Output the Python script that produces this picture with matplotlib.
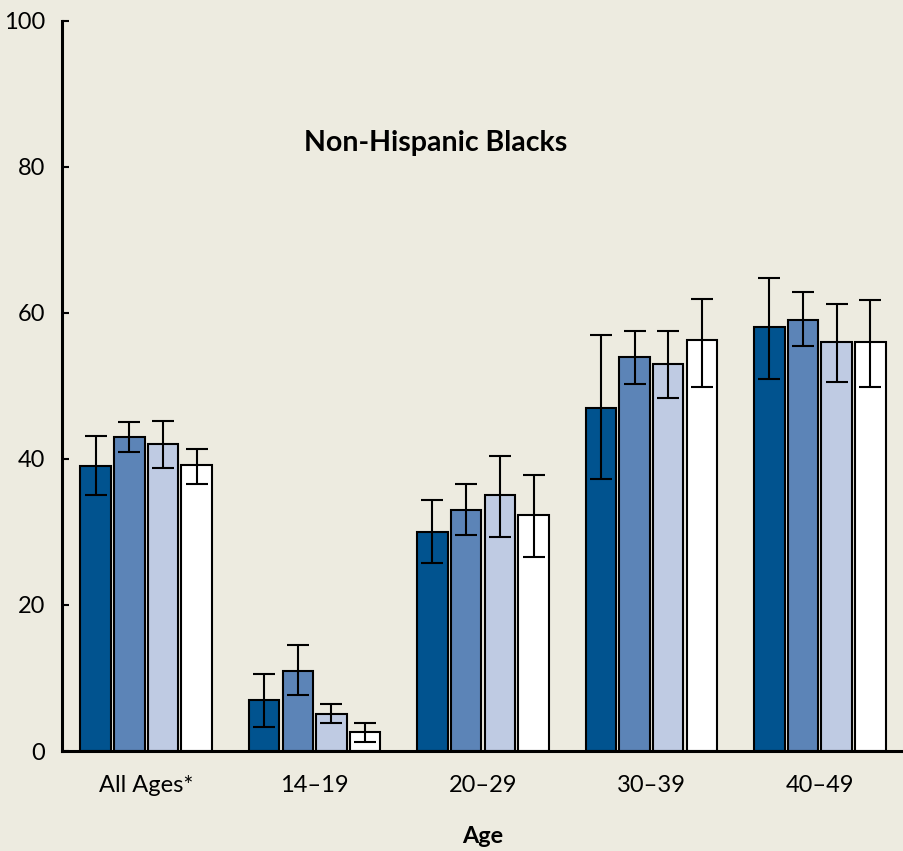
import matplotlib
matplotlib.use('Agg')
import matplotlib.pyplot as plt
import numpy as np

# percentages by age group, four survey periods per group
age_groups = ['All Ages*', '14\u201319', '20\u201329', '30\u201339', '40\u201349']
period_1 = [39.0, 7.0, 30.0, 47.0, 58.0]
period_2 = [43.0, 11.0, 33.0, 54.0, 59.0]
period_3 = [42.0, 5.1, 35.0, 53.0, 56.0]
period_4 = [39.2, 2.6, 32.3, 56.2, 56.0]

# 95% confidence limits
lower_1 = [35.0, 3.3, 25.8, 37.3, 50.9]
upper_1 = [43.1, 10.6, 34.4, 57.0, 64.7]
lower_2 = [40.9, 7.6, 29.6, 50.2, 55.4]
upper_2 = [45.0, 14.5, 36.5, 57.5, 62.9]
lower_3 = [38.8, 3.9, 29.3, 48.3, 50.5]
upper_3 = [45.2, 6.5, 40.4, 57.5, 61.2]
lower_4 = [36.6, 1.2, 26.6, 49.8, 49.8]
upper_4 = [41.4, 3.9, 37.8, 61.9, 61.7]

def main():
    plt.rcParams['font.family'] = ['Lato', 'DejaVu Sans']
    bg = '#edebe0'
    colors = ['#01538f', '#5c84b7', '#bfcbe3', '#ffffff']

    fig = plt.figure(figsize=(9.04, 8.51), dpi=100, facecolor=bg)
    ax = fig.add_axes([0.0686, 0.1175, 0.9314, 0.8584])
    ax.set_facecolor(bg)

    values = [period_1, period_2, period_3, period_4]
    lowers = [lower_1, lower_2, lower_3, lower_4]
    uppers = [upper_1, upper_2, upper_3, upper_4]

    x = np.arange(len(age_groups))
    pitch = 0.2
    width = 0.181
    for i in range(4):
        xs = x + (i - 1.5) * pitch
        v = np.array(values[i])
        err = np.vstack([v - np.array(lowers[i]), np.array(uppers[i]) - v])
        ax.bar(xs, v, width, color=colors[i], edgecolor='black',
               linewidth=1.5, zorder=2)
        ax.errorbar(xs, v, yerr=err, fmt='none', ecolor='black',
                    elinewidth=1.5, capsize=7.8, capthick=1.5, zorder=3)

    ax.set_xlim(-0.5, 4.5)
    ax.set_ylim(0, 100)
    ax.set_yticks([0, 20, 40, 60, 80, 100])
    ax.set_xticks(x)
    ax.set_xticklabels(age_groups)
    ax.tick_params(axis='y', direction='in', length=5, width=1.5,
                   labelsize=17, pad=12)
    ax.tick_params(axis='x', length=0, labelsize=17, pad=17)

    for side in ['top', 'right']:
        ax.spines[side].set_visible(False)
    for side in ['left', 'bottom']:
        ax.spines[side].set_linewidth(2.2)

    ax.text(0.4436, 0.822, 'Non-Hispanic Blacks', transform=ax.transAxes,
            ha='center', va='baseline', fontsize=20.5, fontweight='bold')
    ax.set_xlabel('Age', fontsize=16.8, fontweight='bold', labelpad=22)

    fig.savefig('out.png', dpi=100, facecolor=bg)

if __name__ == '__main__':
    main()
